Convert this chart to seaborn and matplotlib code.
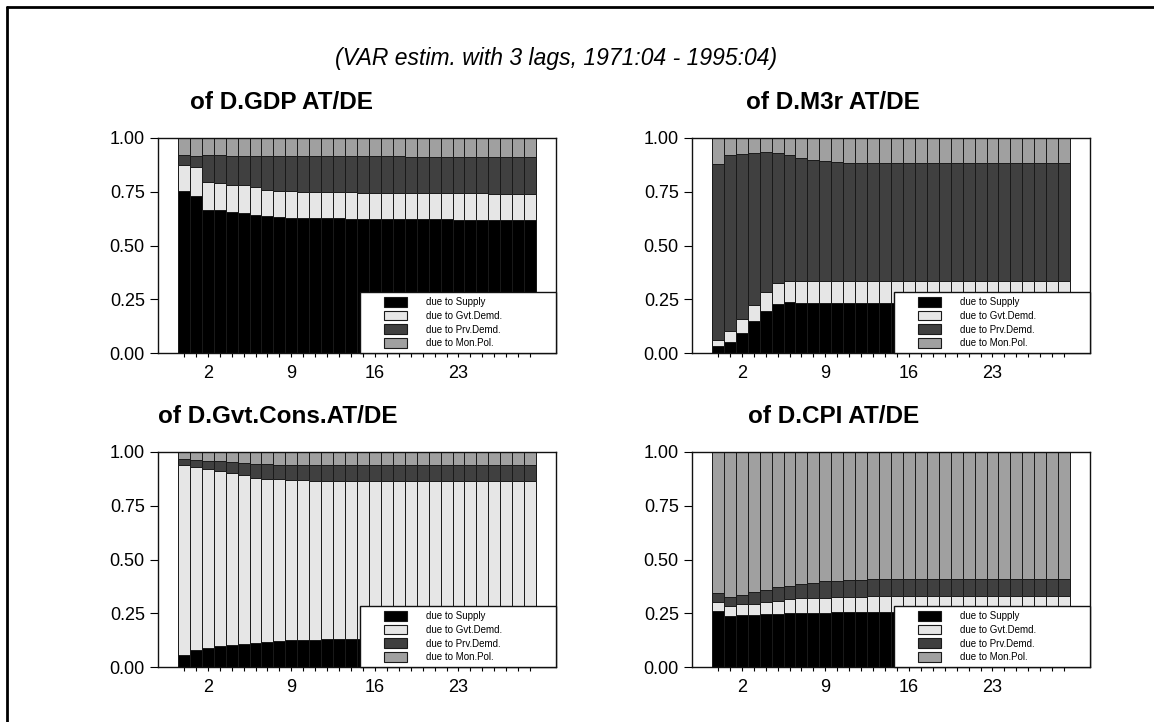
import numpy as np
import pandas as pd
import seaborn as sns
import matplotlib.pyplot as plt
import matplotlib.patches as mpatches
from matplotlib.legend_handler import HandlerPatch
from matplotlib.lines import Line2D

# forecast horizons (quarters) and the labelled ones
horizons = list(range(0, 30))
labelled = [2, 9, 16, 23]
y_ticks = [0.0, 0.25, 0.5, 0.75, 1.0]
y_tick_labels = ["0.00", "0.25", "0.50", "0.75", "1.00"]

subtitle = "(VAR estim. with 3 lags, 1971:04 - 1995:04)"
panel_titles = ["of D.GDP AT/DE", "of D.M3r AT/DE", "of D.Gvt.Cons.AT/DE", "of D.CPI AT/DE"]
components = ["due to Supply", "due to Gvt.Demd.", "due to Prv.Demd.", "due to Mon.Pol."]
colors = ["#000000", "#e6e6e6", "#404040", "#a0a0a0"]

# shares of forecast error variance
gdp_supply = [.752, .729, .667, .664, .654, .651, .643, .636, .631, .629, .629, .628, .627, .626, .625,
              .624, .624, .623, .623, .622, .622, .621, .621, .620, .620, .619, .619, .618, .618, .617]
gdp_gvt = [.121, .135, .130, .127, .129, .129, .128, .121, .121, .123, .122, .122, .122, .122, .122,
           .122, .121, .122, .121, .122, .121, .122, .122, .122, .122, .123, .122, .123, .123, .124]
gdp_prv = [.049, .054, .125, .131, .132, .135, .144, .158, .165, .165, .166, .166, .166, .167, .168,
           .168, .169, .169, .170, .169, .170, .170, .170, .170, .170, .170, .171, .170, .170, .170]
gdp_mon = [.078, .082, .078, .078, .085, .085, .085, .085, .083, .083, .083, .084, .085, .085, .085,
           .086, .086, .086, .086, .087, .087, .087, .087, .088, .088, .088, .088, .089, .089, .089]

m3_supply = [.034, .050, .093, .148, .194, .229, .236, .233, .232, .232, .232, .232, .231, .231, .231,
             .231, .231, .231, .231, .231, .231, .231, .231, .231, .231, .231, .231, .231, .231, .231]
m3_gvt = [.028, .054, .063, .074, .089, .096, .100, .100, .101, .102, .102, .103, .104, .104, .104,
          .105, .105, .105, .105, .105, .105, .105, .106, .106, .106, .106, .106, .106, .106, .106]
m3_prv = [.817, .817, .768, .706, .650, .605, .585, .574, .566, .557, .554, .551, .550, .550, .549,
          .547, .547, .547, .547, .547, .547, .547, .546, .546, .546, .546, .546, .546, .546, .546]
m3_mon = [.121, .079, .076, .072, .067, .070, .079, .093, .101, .109, .112, .114, .115, .115, .116,
          .117, .117, .117, .117, .117, .117, .117, .117, .117, .117, .117, .117, .117, .117, .117]

gvt_supply = [.057, .078, .090, .096, .101, .105, .110, .115, .119, .124, .126, .127, .128, .129, .130,
              .130, .130, .130, .130, .130, .130, .130, .130, .130, .130, .130, .130, .130, .130, .130]
gvt_gvt = [.884, .852, .829, .814, .801, .786, .771, .759, .755, .747, .742, .740, .737, .736, .734,
           .734, .734, .734, .734, .734, .733, .733, .733, .733, .733, .733, .733, .733, .733, .733]
gvt_prv = [.028, .034, .039, .047, .050, .058, .065, .069, .067, .070, .072, .072, .074, .074, .075,
           .075, .075, .075, .075, .075, .077, .077, .077, .077, .077, .077, .077, .077, .077, .077]
gvt_mon = [.031, .036, .042, .043, .048, .051, .054, .057, .059, .059, .060, .061, .061, .061, .061,
           .061, .061, .061, .061, .061, .060, .060, .060, .060, .060, .060, .060, .060, .060, .060]

cpi_supply = [.261, .236, .241, .244, .246, .247, .249, .250, .252, .253, .255, .256, .257, .257, .257,
              .258, .258, .258, .258, .258, .258, .258, .258, .258, .258, .258, .258, .258, .258, .258]
cpi_gvt = [.042, .047, .050, .051, .057, .062, .067, .069, .070, .070, .070, .071, .070, .071, .072,
           .072, .072, .072, .072, .072, .072, .072, .072, .072, .072, .072, .072, .072, .072, .072]
cpi_prv = [.042, .044, .046, .052, .055, .061, .063, .068, .071, .075, .076, .077, .079, .079, .079,
           .079, .079, .079, .079, .079, .079, .079, .081, .081, .081, .081, .081, .081, .081, .081]
cpi_mon = [.655, .673, .663, .653, .642, .630, .621, .613, .607, .602, .599, .596, .594, .593, .592,
           .591, .591, .591, .591, .591, .591, .591, .589, .589, .589, .589, .589, .589, .589, .589]

panels = [
    (gdp_supply, gdp_gvt, gdp_prv, gdp_mon),
    (m3_supply, m3_gvt, m3_prv, m3_mon),
    (gvt_supply, gvt_gvt, gvt_prv, gvt_mon),
    (cpi_supply, cpi_gvt, cpi_prv, cpi_mon),
]

sns.set_theme(style="ticks")
plt.rcParams["font.family"] = ["Liberation Sans", "DejaVu Sans"]
plt.rcParams["text.color"] = "black"
plt.rcParams["axes.edgecolor"] = "#111111"
plt.rcParams["axes.linewidth"] = 1.0

fig = plt.figure(figsize=(11.54, 7.22), dpi=100)
W, H = 1154, 722
# axes boxes in pixels: left, top, right, bottom
boxes = [(158, 138, 556, 353), (692, 138, 1090, 353), (158, 452, 556, 667), (692, 452, 1090, 667)]
title_x = [0.31, 0.355, 0.30, 0.355]


def legend_patch(legend, orig_handle, xdescent, ydescent, width, height, fontsize):
    w = 2.3 * fontsize
    return mpatches.Rectangle((width - xdescent - w, -ydescent), w, height)


for (l, t, r, b), shares, title, tx in zip(boxes, panels, panel_titles, title_x):
    ax = fig.add_axes([l / W, 1 - b / H, (r - l) / W, (b - t) / H])
    cum = np.cumsum(np.array(shares), axis=0)
    for k in reversed(range(4)):
        sns.barplot(x=horizons, y=cum[k], color=colors[k], native_scale=True, width=1,
                    saturation=1, edgecolor="#1a1a1a", linewidth=0.7, errorbar=None, ax=ax)
    ax.set_xlim(-2.17, 31.17)
    ax.set_ylim(0, 1)
    ax.set_xticks(horizons, labels=[str(h) if h in labelled else "" for h in horizons])
    ax.set_yticks(y_ticks, labels=y_tick_labels)
    ax.tick_params(axis="x", length=3, width=0.8, pad=6, labelsize=13, colors="black")
    ax.tick_params(axis="y", length=5.5, width=0.8, pad=4, labelsize=13, colors="black")
    ax.set_xlabel("")
    ax.set_ylabel("")
    ax.text(tx, 1.165, title, transform=ax.transAxes, ha="center", va="center",
            fontsize=17.5, fontweight="bold", color="black")

    handles = [mpatches.Patch(facecolor=c, edgecolor="#1a1a1a", linewidth=0.8) for c in colors]
    leg = ax.legend(handles, components, loc="lower left", bbox_to_anchor=(0.508, 0.0, 0.492, 0.28),
                    mode="expand", fontsize=7, frameon=True, fancybox=False, framealpha=1,
                    edgecolor="#111111", borderaxespad=0, borderpad=0.5, handlelength=4.3,
                    handleheight=1.15, handletextpad=2.0, labelspacing=0.36,
                    handler_map={mpatches.Patch: HandlerPatch(patch_func=legend_patch)})
    leg.get_frame().set_linewidth(1.0)

fig.text(0.482, 1 - 58 / H, subtitle, ha="center", va="center", fontsize=16.5, style="italic",
         color="black")

# page frame (top and left edges)
fig.add_artist(Line2D([7 / W, 7 / W], [0, 1 - 7 / H], transform=fig.transFigure, color="black", lw=2))
fig.add_artist(Line2D([7 / W, 1], [1 - 7 / H, 1 - 7 / H], transform=fig.transFigure, color="black", lw=2))

fig.savefig("out.png", dpi=100)
